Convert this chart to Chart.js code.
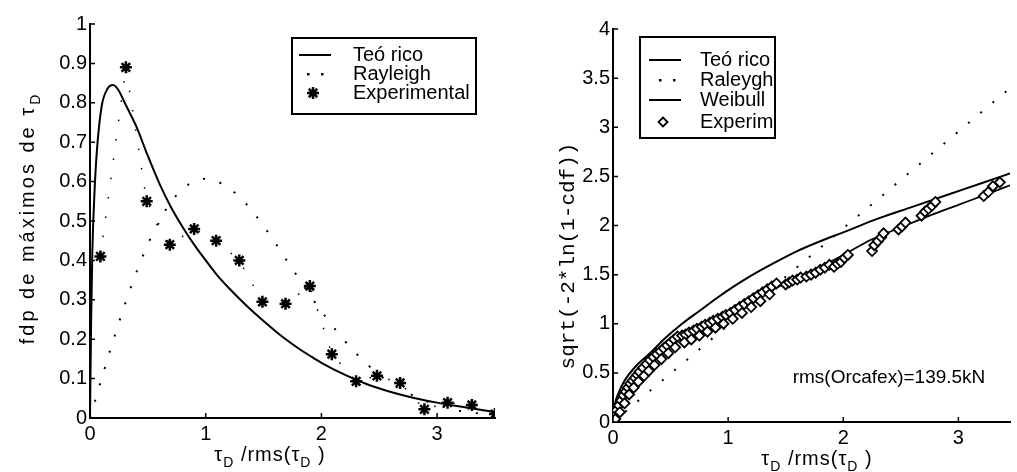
<!DOCTYPE html>
<html>
<head>
<meta charset="utf-8">
<script src="https://cdn.jsdelivr.net/npm/chart.js@4"></script>
<style>
  html, body { margin: 0; padding: 0; background: #fff; }
  #wrap { position: relative; width: 1017px; height: 472px; overflow: hidden; }
  canvas { position: absolute; top: 0; }
  #left-chart { left: 0; }
  #right-chart { left: 510px; }
</style>
</head>
<body>
<div id="wrap">
  <canvas id="left-chart" width="510" height="472"></canvas>
  <canvas id="right-chart" width="507" height="472"></canvas>
</div>
<script>
const FONT = "'Liberation Sans', Arial, Helvetica, sans-serif";
const MONO = "'Liberation Mono', 'DejaVu Sans Mono', monospace";

// ---- left panel: pdf of maxima ----
const leftXTicks = [0, 1, 2, 3];
const leftYTicks = [0, 0.1, 0.2, 0.3, 0.4, 0.5, 0.6, 0.7, 0.8, 0.9, 1];

const teoricoX = [0, 0.01, 0.02, 0.04, 0.06, 0.1, 0.15, 0.2, 0.25, 0.3, 0.4, 0.5, 0.6, 0.7, 0.8, 0.9, 1.0, 1.1, 1.2, 1.3, 1.4, 1.5, 1.6, 1.7, 1.8, 1.9, 2.0, 2.2, 2.4, 2.6, 2.8, 3.0, 3.2, 3.5];
const teoricoY = [0, 0.25, 0.42, 0.58, 0.68, 0.79, 0.835, 0.845, 0.83, 0.8, 0.74, 0.665, 0.595, 0.535, 0.485, 0.44, 0.4, 0.362, 0.33, 0.3, 0.272, 0.246, 0.221, 0.198, 0.177, 0.158, 0.14, 0.11, 0.085, 0.066, 0.051, 0.039, 0.029, 0.015];

const rayleighX = [0, 0.1, 0.2, 0.3, 0.4, 0.5, 0.6, 0.7, 0.8, 0.9, 1.0, 1.1, 1.2, 1.3, 1.4, 1.5, 1.6, 1.7, 1.8, 1.9, 2.0, 2.2, 2.4, 2.6, 2.8, 3.0, 3.2, 3.4];
const rayleighY = [0, 0.1, 0.196, 0.287, 0.369, 0.441, 0.501, 0.548, 0.581, 0.6, 0.607, 0.6, 0.584, 0.559, 0.526, 0.487, 0.445, 0.4, 0.356, 0.312, 0.271, 0.196, 0.135, 0.088, 0.056, 0.033, 0.018, 0.01];

const experimentalX = [0.09, 0.31, 0.49, 0.69, 0.9, 1.09, 1.29, 1.49, 1.69, 1.9, 2.09, 2.3, 2.48, 2.68, 2.89, 3.09, 3.3, 3.5];
const experimentalY = [0.41, 0.89, 0.55, 0.44, 0.48, 0.45, 0.4, 0.295, 0.29, 0.335, 0.162, 0.093, 0.107, 0.089, 0.022, 0.039, 0.033, 0.01];

// ---- right panel: linearised cdf ----
const rightXTicks = [0, 1, 2, 3];
const rightYTicks = [0, 0.5, 1, 1.5, 2, 2.5, 3, 3.5, 4];

const teoRX = [0, 0.02, 0.05, 0.1, 0.2, 0.33, 0.45, 0.6, 0.75, 0.9, 1.05, 1.2, 1.4, 1.6, 1.8, 2.0, 2.3, 2.6, 2.9, 3.2, 3.45];
const teoRY = [0.05, 0.2, 0.3, 0.42, 0.57, 0.71, 0.85, 1.0, 1.13, 1.26, 1.38, 1.49, 1.62, 1.74, 1.84, 1.93, 2.07, 2.19, 2.31, 2.43, 2.53];

const raleyghX = [0, 3.45];
const raleyghY = [0, 3.4];

const weibullX = [0, 0.05, 0.1, 0.2, 0.3, 0.5, 0.75, 1.0, 1.25, 1.5, 1.75, 2.0, 2.25, 2.5, 2.75, 3.0, 3.25, 3.45];
const weibullY = [0, 0.15, 0.25, 0.42, 0.56, 0.78, 0.97, 1.11, 1.27, 1.41, 1.55, 1.7, 1.86, 1.98, 2.1, 2.21, 2.32, 2.41];

const experimX = [0.01, 0.03, 0.05, 0.07, 0.09, 0.11, 0.13, 0.15, 0.17, 0.19, 0.21, 0.23, 0.26, 0.29, 0.32, 0.35, 0.38, 0.41, 0.44, 0.47, 0.5, 0.53, 0.56, 0.6, 0.63, 0.66, 0.7, 0.73, 0.77, 0.8, 0.84, 0.87, 0.91, 0.95, 0.98, 1.02, 1.06, 1.1, 1.14, 1.18, 1.22, 1.26, 1.3, 1.34, 1.38, 1.42,
  0.02, 0.06, 0.1, 0.14, 0.18, 0.22, 0.27, 0.31, 0.36, 0.42, 0.48, 0.54, 0.62, 0.68, 0.75, 0.82, 0.89, 0.96, 1.04, 1.12, 1.2, 1.28, 1.36,
  1.5, 1.53, 1.56, 1.6, 1.63, 1.68, 1.72, 1.76, 1.8, 1.84, 1.88, 1.92, 1.95, 1.98, 2.01, 2.04,
  2.25, 2.27, 2.3, 2.33, 2.35, 2.48, 2.51, 2.54, 2.68, 2.71, 2.74, 2.77, 2.8, 3.22, 3.26, 3.3, 3.36];
const experimY = [0.06, 0.12, 0.17, 0.22, 0.27, 0.31, 0.35, 0.39, 0.42, 0.45, 0.48, 0.51, 0.55, 0.59, 0.63, 0.66, 0.69, 0.72, 0.75, 0.78, 0.81, 0.84, 0.87, 0.88, 0.89, 0.91, 0.93, 0.95, 0.97, 0.99, 1.01, 1.03, 1.05, 1.07, 1.09, 1.11, 1.14, 1.17, 1.2, 1.23, 1.26, 1.29, 1.32, 1.35, 1.38, 1.41,
  0.03, 0.1, 0.19, 0.28, 0.35, 0.41, 0.47, 0.52, 0.58, 0.64, 0.7, 0.76, 0.81, 0.84, 0.88, 0.92, 0.96, 1.0, 1.05, 1.11, 1.17, 1.23, 1.3,
  1.4, 1.42, 1.44, 1.45, 1.47, 1.48, 1.5, 1.52, 1.55, 1.57, 1.6, 1.58, 1.61, 1.63, 1.67, 1.7,
  1.74, 1.8, 1.84, 1.88, 1.92, 1.96, 1.99, 2.03, 2.1, 2.14, 2.17, 2.2, 2.24, 2.3, 2.34, 2.4, 2.44];

function toPoints(xs, ys) {
  return xs.map((x, i) => ({ x: x, y: ys[i] }));
}

// Draw text with subscript parts, centred on (cx, cy)
function drawRich(ctx, parts, cx, cy, size, family, spacing) {
  const fam = family || FONT;
  const subSize = Math.round(size * 0.72);
  ctx.letterSpacing = (spacing || 0) + 'px';
  let total = 0;
  parts.forEach(p => {
    ctx.font = `${p.sub ? subSize : size}px ${fam}`;
    p.w = ctx.measureText(p.t).width;
    total += p.w;
  });
  let x = cx - total / 2;
  ctx.textAlign = 'left';
  ctx.textBaseline = 'middle';
  parts.forEach(p => {
    ctx.font = `${p.sub ? subSize : size}px ${fam}`;
    ctx.fillText(p.t, x, p.sub ? cy + size * 0.42 : cy);
    x += p.w;
  });
  ctx.letterSpacing = '0px';
}

function drawStar(ctx, x, y, r) {
  ctx.beginPath();
  for (let k = 0; k < 4; k++) {
    const a = k * Math.PI / 4;
    ctx.moveTo(x - r * Math.cos(a), y - r * Math.sin(a));
    ctx.lineTo(x + r * Math.cos(a), y + r * Math.sin(a));
  }
  ctx.lineWidth = 2.5;
  ctx.stroke();
}

function drawDiamond(ctx, x, y, r) {
  ctx.beginPath();
  ctx.moveTo(x, y - r);
  ctx.lineTo(x + r, y);
  ctx.lineTo(x, y + r);
  ctx.lineTo(x - r, y);
  ctx.closePath();
  ctx.fillStyle = '#fff';
  ctx.fill();
  ctx.lineWidth = 1.8;
  ctx.stroke();
}

// Legend box with sample marks, positions in canvas pixels
function drawLegend(ctx, box, items) {
  ctx.save();
  ctx.fillStyle = '#fff';
  ctx.fillRect(box.x, box.y, box.w, box.h);
  ctx.strokeStyle = '#000';
  ctx.lineWidth = 2;
  ctx.strokeRect(box.x, box.y, box.w, box.h);
  items.forEach(it => {
    ctx.strokeStyle = '#000';
    ctx.fillStyle = '#000';
    if (it.kind === 'line') {
      ctx.lineWidth = 2;
      ctx.beginPath();
      ctx.moveTo(it.sx, it.y);
      ctx.lineTo(it.sx + 32, it.y);
      ctx.stroke();
    } else if (it.kind === 'dots') {
      ctx.fillRect(it.sx + 8, it.y - 1, 2.5, 2.5);
      ctx.fillRect(it.sx + 22, it.y - 1, 2.5, 2.5);
    } else if (it.kind === 'star') {
      drawStar(ctx, it.sx + 14, it.y, 6);
    } else if (it.kind === 'diamond') {
      drawDiamond(ctx, it.sx + 14, it.y, 4.5);
    }
    ctx.fillStyle = '#000';
    ctx.font = `20px ${FONT}`;
    ctx.textAlign = 'left';
    ctx.textBaseline = 'middle';
    ctx.fillText(it.label, it.tx, it.y);
  });
  ctx.restore();
}

// Ticks drawn on the inside of the axes
const inwardTicks = {
  id: 'inwardTicks',
  afterDraw(chart) {
    const { ctx, chartArea, scales } = chart;
    ctx.save();
    ctx.strokeStyle = '#000';
    ctx.lineWidth = 1.5;
    ctx.beginPath();
    scales.x.ticks.forEach(t => {
      const px = scales.x.getPixelForValue(t.value);
      ctx.moveTo(px, chartArea.bottom);
      ctx.lineTo(px, chartArea.bottom - 5);
    });
    scales.y.ticks.forEach(t => {
      const py = scales.y.getPixelForValue(t.value);
      ctx.moveTo(chartArea.left, py);
      ctx.lineTo(chartArea.left + 5, py);
    });
    ctx.stroke();
    ctx.restore();
  }
};

function makeScales(cfg) {
  const common = {
    type: 'linear',
    grid: { display: false, drawTicks: false },
    border: { display: true, color: '#000', width: 2 },
  };
  return {
    x: Object.assign({}, common, {
      min: cfg.xMin, max: cfg.xMax,
      ticks: { color: '#000', font: { family: FONT, size: 20 }, padding: 4, maxRotation: 0, callback: v => String(v) },
      afterBuildTicks: s => { s.ticks = cfg.xTicks.map(v => ({ value: v })); },
      afterFit: s => { s.height = cfg.xHeight; }
    }),
    y: Object.assign({}, common, {
      min: cfg.yMin, max: cfg.yMax,
      ticks: { color: '#000', font: { family: FONT, size: 20 }, padding: 3, callback: v => String(v) },
      afterBuildTicks: s => { s.ticks = cfg.yTicks.map(v => ({ value: v })); },
      afterFit: s => { s.width = cfg.yWidth; }
    })
  };
}

function lineSet(xs, ys, extra) {
  return Object.assign({
    data: toPoints(xs, ys),
    showLine: true,
    borderColor: '#000',
    borderWidth: 2,
    pointRadius: 0,
    fill: false
  }, extra);
}

const xTitleParts = [{ t: 'τ' }, { t: 'D', sub: true }, { t: ' /rms(τ' }, { t: 'D', sub: true }, { t: ' )' }];

// Left chart
new Chart(document.getElementById('left-chart'), {
  type: 'scatter',
  data: {
    datasets: [
      lineSet(experimentalX, experimentalY, {
        borderWidth: 1.5, borderDash: [1.5, 18],
        pointStyle: 'star', pointRadius: 6, pointBorderWidth: 2.5,
        pointBorderColor: '#000', pointBackgroundColor: '#000'
      }),
      lineSet(teoricoX, teoricoY, { cubicInterpolationMode: 'monotone' }),
      lineSet(rayleighX, rayleighY, { borderDash: [2, 15], cubicInterpolationMode: 'monotone' })
    ]
  },
  options: {
    responsive: false,
    animation: false,
    layout: { padding: { top: 24, right: 15, left: 0, bottom: 0 } },
    plugins: { legend: { display: false }, tooltip: { enabled: false } },
    scales: makeScales({ xMin: 0, xMax: 3.5, yMin: 0, yMax: 1, xTicks: leftXTicks, yTicks: leftYTicks, xHeight: 54, yWidth: 90 })
  },
  plugins: [inwardTicks, {
    id: 'leftDecor',
    afterDraw(chart) {
      const ctx = chart.ctx;
      ctx.save();
      ctx.fillStyle = '#000';
      drawRich(ctx, xTitleParts, 270, 455, 20, FONT, 1);
      ctx.translate(28, 218);
      ctx.rotate(-Math.PI / 2);
      drawRich(ctx, [{ t: 'fdp de máximos de τ' }, { t: 'D', sub: true }], 0, 0, 20, FONT, 3);
      ctx.restore();
      drawLegend(ctx, { x: 292, y: 38, w: 184, h: 76 }, [
        { kind: 'line', label: 'Teó rico', sx: 299, tx: 353, y: 55 },
        { kind: 'dots', label: 'Rayleigh', sx: 299, tx: 353, y: 74 },
        { kind: 'star', label: 'Experimental', sx: 299, tx: 353, y: 93 }
      ]);
    }
  }]
});

// Right chart
new Chart(document.getElementById('right-chart'), {
  type: 'scatter',
  data: {
    datasets: [
      {
        data: toPoints(experimX, experimY),
        pointStyle: 'rectRot', pointRadius: 5, pointBorderWidth: 1.8,
        pointBorderColor: '#000', pointBackgroundColor: '#fff'
      },
      lineSet(weibullX, weibullY, { borderWidth: 1.8, cubicInterpolationMode: 'monotone' }),
      lineSet(teoRX, teoRY, { borderWidth: 2, cubicInterpolationMode: 'monotone' }),
      lineSet(raleyghX, raleyghY, { borderDash: [2, 14] })
    ]
  },
  options: {
    responsive: false,
    animation: false,
    layout: { padding: { top: 29, right: 3, left: 0, bottom: 0 } },
    plugins: { legend: { display: false }, tooltip: { enabled: false } },
    scales: makeScales({ xMin: 0, xMax: 3.45, yMin: 0, yMax: 4, xTicks: rightXTicks, yTicks: rightYTicks, xHeight: 50, yWidth: 103 })
  },
  plugins: [inwardTicks, {
    id: 'rightDecor',
    afterDraw(chart) {
      const ctx = chart.ctx;
      ctx.save();
      ctx.fillStyle = '#000';
      drawRich(ctx, xTitleParts, 817 - 510, 459, 20, FONT, 1);
      drawRich(ctx, [{ t: 'rms(Orcafex)=139.5kN' }], 889 - 510, 378, 19);
      ctx.translate(568 - 510, 256);
      ctx.rotate(-Math.PI / 2);
      drawRich(ctx, [{ t: 'sqrt(-2*ln(1-cdf))' }], 0, 0, 21, MONO, 0);
      ctx.restore();
      drawLegend(ctx, { x: 640 - 510, y: 37, w: 135, h: 101 }, [
        { kind: 'line', label: 'Teó rico', sx: 649 - 510, tx: 700 - 510, y: 60 },
        { kind: 'dots', label: 'Raleygh', sx: 651 - 510, tx: 700 - 510, y: 80 },
        { kind: 'line', label: 'Weibull', sx: 649 - 510, tx: 700 - 510, y: 100 },
        { kind: 'diamond', label: 'Experim', sx: 649 - 510, tx: 700 - 510, y: 122 }
      ]);
    }
  }]
});
</script>
</body>
</html>
